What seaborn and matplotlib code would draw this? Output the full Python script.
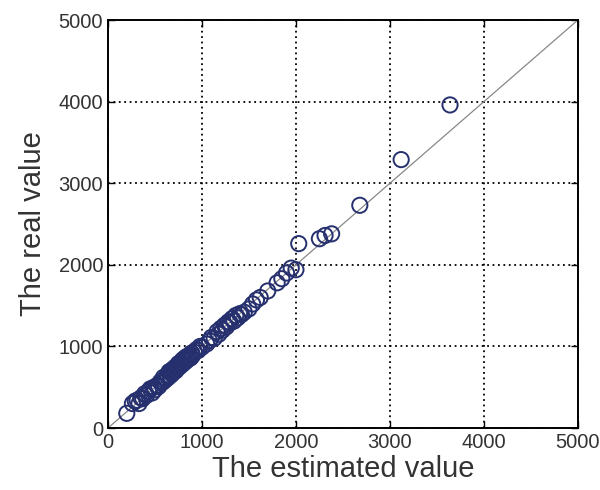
import matplotlib
matplotlib.use("Agg")
import matplotlib.pyplot as plt
import seaborn as sns
import numpy as np
import pandas as pd

estimated = [200, 260, 290, 310, 330, 350, 370, 390, 410, 430, 450, 470, 490, 500, 520,
             540, 560, 580, 590, 600, 620, 630, 640, 650, 660, 670, 680, 690, 700, 710,
             720, 730, 740, 750, 760, 770, 780, 790, 800, 810, 820, 830, 840, 850, 860,
             870, 880, 890, 900, 920, 940, 960, 980, 1000, 1050, 1080, 1100, 1130, 1160,
             1180, 1200, 1220, 1240, 1260, 1280, 1300, 1320, 1340, 1360, 1380, 1400, 1420,
             1450, 1500, 1540, 1580, 1620, 1700, 1800, 1850, 1900, 1950, 2000, 2030, 2250,
             2310, 2380, 2680, 3120, 3640]
real = [180, 300, 330, 340, 300, 370, 360, 420, 400, 450, 480, 430, 500, 470, 520,
        510, 570, 560, 620, 580, 600, 650, 620, 690, 640, 700, 660, 720, 690, 740,
        700, 760, 730, 790, 750, 800, 770, 830, 790, 850, 810, 870, 830, 880, 850,
        900, 860, 920, 890, 930, 960, 950, 1000, 990, 1030, 1070, 1110, 1100, 1180,
        1150, 1220, 1200, 1260, 1240, 1300, 1290, 1340, 1310, 1380, 1350, 1400, 1390,
        1420, 1460, 1520, 1570, 1600, 1680, 1780, 1830, 1900, 1960, 1940, 2260, 2320,
        2360, 2380, 2730, 3290, 3960]

df = pd.DataFrame({"est": estimated, "real": real})

sns.set_style("white")
plt.rcParams['font.family'] = ['Liberation Sans', 'DejaVu Sans']

fig = plt.figure(figsize=(6, 4.9), dpi=100)
ax = fig.add_axes([0.18, 0.1265, 0.783, 0.8325])

ax.plot([0, 5000], [0, 5000], color="#888888", lw=0.9, zorder=2)
sns.scatterplot(data=df, x="est", y="real", ax=ax, marker="o", s=120,
                facecolors="none", edgecolor="#26306e", linewidth=1.4, zorder=3)

ax.set_xlim(0, 5000)
ax.set_ylim(0, 5000)
ticks = [0, 1000, 2000, 3000, 4000, 5000]
ax.set_xticks(ticks)
ax.set_yticks(ticks)
ax.grid(True, color="black", linestyle=(0, (1, 2)), linewidth=1.3)
ax.tick_params(direction="in", length=5, width=1, labelsize=14.5, colors="#333333",
               top=True, right=True, bottom=True, left=True,
               labeltop=False, labelright=False)
ax.tick_params(axis="both", which="both", color="black")
for sp in ax.spines.values():
    sp.set_color("black")
    sp.set_linewidth(1.4)
ax.set_xlabel("The estimated value", fontsize=21, color="#333333", labelpad=2)
ax.set_ylabel("The real value", fontsize=21, color="#333333", labelpad=8)

fig.savefig("out.png", dpi=100)
